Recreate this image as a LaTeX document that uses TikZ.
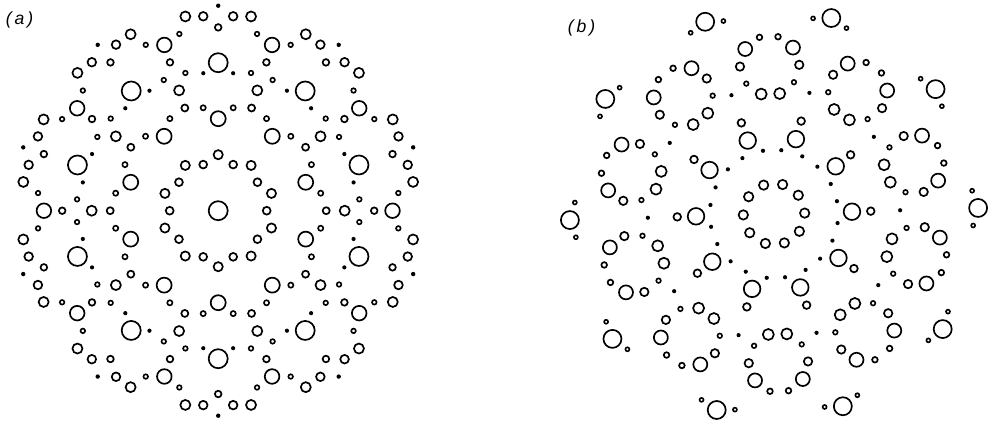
\documentclass[tikz,border=0pt]{standalone}
\usepackage{fontspec}
\setsansfont{Liberation Sans}
\newcommand{\ringof}[6]{% center, offset, R, phi, r, style
  \foreach \kk in {0,...,9}{\path[#6] (#1) ++({#2+#4+36*\kk}:#3) circle (#5);}}
\newcommand{\pairof}[7]{% center, offset, R, phi, delta, r, style
  \ringof{#1}{#2}{#3}{#4+#5}{#6}{#7}\ringof{#1}{#2}{#3}{#4-#5}{#6}{#7}}
\begin{document}
\begin{tikzpicture}[x=0.25mm,y=0.25mm,
  oc/.style={draw=black,line width=0.42mm},
  tc/.style={draw=black,line width=0.4mm},
  dt/.style={fill=black},
  lbl/.style={font=\sffamily\itshape\fontsize{12.5}{14}\selectfont}]
\useasboundingbox (0,0) rectangle (988,-423);
\coordinate (ca) at (218.2,-210.7);
\coordinate (cb) at (774,-214);
\node[lbl] (la) at (19.5,-20) {(\,a\,)};
\node[lbl] (lb) at (581.5,-27.5) {(\,b\,)};
% ---------- panel (a) ----------
\path[oc] (ca) circle (9.5);
\ringof{ca}{0}{48.5}{0}{3.9}{oc}
\ringof{ca}{0}{56}{18}{4.6}{oc}
\ringof{ca}{0}{92}{18}{7.5}{oc}
\pairof{ca}{0}{104}{18}{8.3}{2.6}{tc}
\ringof{ca}{0}{108}{0}{3.5}{oc}
\ringof{ca}{0}{126.5}{0}{5}{oc}
\pairof{ca}{0}{138.3}{18}{6.2}{2.1}{dt}
\pairof{ca}{0}{141.6}{0}{4.6}{2.3}{tc}
\ringof{ca}{0}{148}{18}{9.5}{oc}
\ringof{ca}{0}{156}{0}{3.3}{oc}
\ringof{ca}{0}{174.3}{0}{7.3}{oc}
\pairof{ca}{0}{181}{18}{12.4}{2.3}{tc}
\ringof{ca}{0}{183.3}{18}{3.3}{oc}
\pairof{ca}{0}{195}{18}{4.4}{4.3}{oc}
\pairof{ca}{0}{197}{18}{9.6}{5}{oc}
\ringof{ca}{0}{205}{18}{2.2}{dt}
% ---------- panel (b) ----------
\ringof{cb}{1.7}{30.7}{0}{4.7}{oc}
\pairof{cb}{1.7}{64.2}{18}{8.2}{2.1}{dt}
\ringof{cb}{1.7}{78}{0}{8.3}{oc}
\ringof{cb}{1.7}{96.8}{0}{3.8}{oc}
\pairof{cb}{1.7}{120.6}{18}{4.4}{5.5}{oc}
\ringof{cb}{1.7}{126.2}{0}{2.1}{dt}
\pairof{cb}{1.7}{133.3}{0}{7.7}{2.3}{tc}
\pairof{cb}{1.7}{151.3}{0}{6.7}{4.2}{oc}
\pairof{cb}{1.7}{167.5}{18}{8.2}{7}{oc}
\pairof{cb}{1.7}{177.3}{18}{3}{2.8}{oc}
\pairof{cb}{1.7}{199.5}{0}{5}{2}{tc}
\ringof{cb}{1.7}{204.2}{0}{9}{oc}
\end{tikzpicture}
\end{document}
